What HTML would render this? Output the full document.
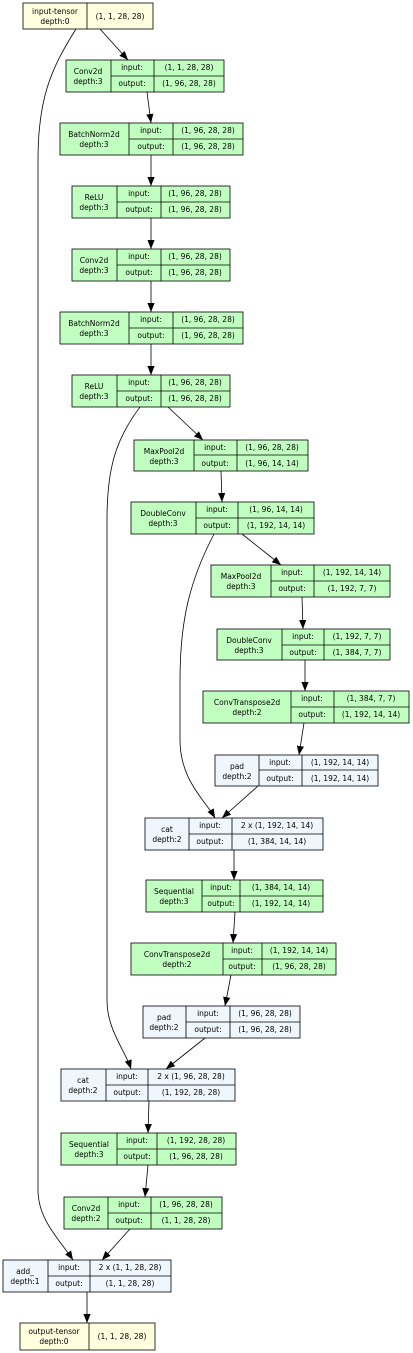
<!DOCTYPE html>
<html><head><meta charset="utf-8"><style>
html,body{margin:0;padding:0;background:#fff;}
svg{display:block;}
text{font-family:"DejaVu Sans","Liberation Sans",sans-serif;font-size:7.5px;fill:#000;text-anchor:middle;}
.g{fill:#c1ffc1;stroke:#000;stroke-width:0.8;}
.b{fill:#f0f6fd;stroke:#000;stroke-width:0.8;}
.y{fill:#ffffe0;stroke:#000;stroke-width:0.8;}
.l{stroke:#000;stroke-width:0.8;fill:none;}
.e{stroke:#000;stroke-width:0.8;fill:none;marker-end:url(#a);}
</style></head><body>
<svg width="413" height="1353" viewBox="0 0 413 1353" xmlns="http://www.w3.org/2000/svg">
<defs><marker id="a" viewBox="0 0 10 10" refX="10" refY="5" markerWidth="9" markerHeight="9" markerUnits="userSpaceOnUse" orient="auto"><path d="M0,1 L10,5 L0,9 z" fill="#000"/></marker></defs>

<!-- edges -->
<path class="e" d="M100,29 L128,60"/>
<path class="e" d="M76,29 C50,70 38,100 38,160 L38,1190 C38,1220 60,1240 73,1260"/>
<path class="e" d="M147,92 L151,123"/>
<path class="e" d="M151,155 L151,186"/>
<path class="e" d="M151,218 L151,249"/>
<path class="e" d="M151,281 L151,312"/>
<path class="e" d="M151,344 L151,375"/>
<path class="e" d="M168,407 L203,440"/>
<path class="e" d="M140,407 C115,440 107,470 107,520 L107,1000 C107,1030 125,1050 131,1069"/>
<path class="e" d="M221,471 L222,502"/>
<path class="e" d="M242,534 L281,565"/>
<path class="e" d="M214,534 C190,580 180,620 180,680 L180,740 C180,780 205,800 215,818"/>
<path class="e" d="M302,597 L303,629"/>
<path class="e" d="M305,660 L305,691"/>
<path class="e" d="M304,723 L299,755"/>
<path class="e" d="M258,786 L222,818"/>
<path class="e" d="M234,850 L234,880"/>
<path class="e" d="M235,912 L233,943"/>
<path class="e" d="M231,975 L225,1006"/>
<path class="e" d="M205,1038 L166,1069"/>
<path class="e" d="M149,1101 L148,1133"/>
<path class="e" d="M148,1165 L145,1197"/>
<path class="e" d="M130,1229 L102,1260"/>
<path class="e" d="M87,1292 L87,1323"/>

<!-- input-tensor -->
<rect class="y" x="23" y="3" width="130" height="26"/><line class="l" x1="87" y1="3" x2="87" y2="29"/>
<text x="55" y="14">input-tensor</text><text x="55" y="24">depth:0</text><text x="120" y="19">(1, 1, 28, 28)</text>

<!-- Conv2d -->
<rect class="g" x="66" y="60" width="158" height="32"/><line class="l" x1="111" y1="60" x2="111" y2="92"/><line class="l" x1="154" y1="60" x2="154" y2="92"/><line class="l" x1="111" y1="76" x2="224" y2="76"/>
<text x="88" y="74">Conv2d</text><text x="88" y="84">depth:3</text><text x="132" y="70">input:</text><text x="132" y="86">output:</text><text x="189" y="70">(1, 1, 28, 28)</text><text x="189" y="86">(1, 96, 28, 28)</text>

<!-- BatchNorm2d -->
<rect class="g" x="60" y="123" width="183" height="32"/><line class="l" x1="129" y1="123" x2="129" y2="155"/><line class="l" x1="173" y1="123" x2="173" y2="155"/><line class="l" x1="129" y1="139" x2="243" y2="139"/>
<text x="94" y="137">BatchNorm2d</text><text x="94" y="147">depth:3</text><text x="151" y="133">input:</text><text x="151" y="149">output:</text><text x="208" y="133">(1, 96, 28, 28)</text><text x="208" y="149">(1, 96, 28, 28)</text>

<!-- ReLU -->
<rect class="g" x="72" y="186" width="158" height="32"/><line class="l" x1="117" y1="186" x2="117" y2="218"/><line class="l" x1="161" y1="186" x2="161" y2="218"/><line class="l" x1="117" y1="202" x2="230" y2="202"/>
<text x="94" y="200">ReLU</text><text x="94" y="210">depth:3</text><text x="139" y="196">input:</text><text x="139" y="212">output:</text><text x="195" y="196">(1, 96, 28, 28)</text><text x="195" y="212">(1, 96, 28, 28)</text>

<!-- Conv2d -->
<rect class="g" x="72" y="249" width="158" height="32"/><line class="l" x1="117" y1="249" x2="117" y2="281"/><line class="l" x1="161" y1="249" x2="161" y2="281"/><line class="l" x1="117" y1="265" x2="230" y2="265"/>
<text x="94" y="263">Conv2d</text><text x="94" y="273">depth:3</text><text x="139" y="259">input:</text><text x="139" y="275">output:</text><text x="195" y="259">(1, 96, 28, 28)</text><text x="195" y="275">(1, 96, 28, 28)</text>

<!-- BatchNorm2d -->
<rect class="g" x="60" y="312" width="183" height="32"/><line class="l" x1="129" y1="312" x2="129" y2="344"/><line class="l" x1="173" y1="312" x2="173" y2="344"/><line class="l" x1="129" y1="328" x2="243" y2="328"/>
<text x="94" y="326">BatchNorm2d</text><text x="94" y="336">depth:3</text><text x="151" y="322">input:</text><text x="151" y="338">output:</text><text x="208" y="322">(1, 96, 28, 28)</text><text x="208" y="338">(1, 96, 28, 28)</text>

<!-- ReLU -->
<rect class="g" x="72" y="375" width="158" height="32"/><line class="l" x1="117" y1="375" x2="117" y2="407"/><line class="l" x1="161" y1="375" x2="161" y2="407"/><line class="l" x1="117" y1="391" x2="230" y2="391"/>
<text x="94" y="389">ReLU</text><text x="94" y="399">depth:3</text><text x="139" y="385">input:</text><text x="139" y="401">output:</text><text x="195" y="385">(1, 96, 28, 28)</text><text x="195" y="401">(1, 96, 28, 28)</text>

<!-- MaxPool2d -->
<rect class="g" x="134" y="440" width="174" height="31"/><line class="l" x1="194" y1="440" x2="194" y2="471"/><line class="l" x1="237" y1="440" x2="237" y2="471"/><line class="l" x1="194" y1="455" x2="308" y2="455"/>
<text x="164" y="454">MaxPool2d</text><text x="164" y="464">depth:3</text><text x="215" y="450">input:</text><text x="215" y="466">output:</text><text x="272" y="450">(1, 96, 28, 28)</text><text x="272" y="466">(1, 96, 14, 14)</text>

<!-- DoubleConv -->
<rect class="g" x="131" y="502" width="183" height="32"/><line class="l" x1="196" y1="502" x2="196" y2="534"/><line class="l" x1="238" y1="502" x2="238" y2="534"/><line class="l" x1="196" y1="518" x2="314" y2="518"/>
<text x="163" y="516">DoubleConv</text><text x="163" y="526">depth:3</text><text x="217" y="512">input:</text><text x="217" y="528">output:</text><text x="276" y="512">(1, 96, 14, 14)</text><text x="276" y="528">(1, 192, 14, 14)</text>

<!-- MaxPool2d -->
<rect class="g" x="211" y="565" width="179" height="32"/><line class="l" x1="271" y1="565" x2="271" y2="597"/><line class="l" x1="314" y1="565" x2="314" y2="597"/><line class="l" x1="271" y1="581" x2="390" y2="581"/>
<text x="241" y="579">MaxPool2d</text><text x="241" y="589">depth:3</text><text x="292" y="575">input:</text><text x="292" y="591">output:</text><text x="352" y="575">(1, 192, 14, 14)</text><text x="352" y="591">(1, 192, 7, 7)</text>

<!-- DoubleConv -->
<rect class="g" x="217" y="629" width="173" height="31"/><line class="l" x1="282" y1="629" x2="282" y2="660"/><line class="l" x1="324" y1="629" x2="324" y2="660"/><line class="l" x1="282" y1="645" x2="390" y2="645"/>
<text x="249" y="643">DoubleConv</text><text x="249" y="653">depth:3</text><text x="303" y="639">input:</text><text x="303" y="655">output:</text><text x="357" y="639">(1, 192, 7, 7)</text><text x="357" y="655">(1, 384, 7, 7)</text>

<!-- ConvTranspose2d -->
<rect class="g" x="203" y="691" width="206" height="32"/><line class="l" x1="291" y1="691" x2="291" y2="723"/><line class="l" x1="334" y1="691" x2="334" y2="723"/><line class="l" x1="291" y1="707" x2="409" y2="707"/>
<text x="247" y="705">ConvTranspose2d</text><text x="247" y="715">depth:2</text><text x="312" y="701">input:</text><text x="312" y="717">output:</text><text x="371" y="701">(1, 384, 7, 7)</text><text x="371" y="717">(1, 192, 14, 14)</text>

<!-- pad -->
<rect class="b" x="215" y="755" width="163" height="31"/><line class="l" x1="259" y1="755" x2="259" y2="786"/><line class="l" x1="302" y1="755" x2="302" y2="786"/><line class="l" x1="259" y1="770" x2="378" y2="770"/>
<text x="237" y="769">pad</text><text x="237" y="779">depth:2</text><text x="280" y="765">input:</text><text x="280" y="781">output:</text><text x="340" y="765">(1, 192, 14, 14)</text><text x="340" y="781">(1, 192, 14, 14)</text>

<!-- cat -->
<rect class="b" x="145" y="818" width="178" height="32"/><line class="l" x1="189" y1="818" x2="189" y2="850"/><line class="l" x1="232" y1="818" x2="232" y2="850"/><line class="l" x1="189" y1="834" x2="323" y2="834"/>
<text x="167" y="832">cat</text><text x="167" y="842">depth:2</text><text x="210" y="828">input:</text><text x="210" y="844">output:</text><text x="277" y="828">2 x (1, 192, 14, 14)</text><text x="277" y="844">(1, 384, 14, 14)</text>

<!-- Sequential -->
<rect class="g" x="146" y="880" width="177" height="32"/><line class="l" x1="202" y1="880" x2="202" y2="912"/><line class="l" x1="240" y1="880" x2="240" y2="912"/><line class="l" x1="202" y1="896" x2="323" y2="896"/>
<text x="174" y="894">Sequential</text><text x="174" y="904">depth:3</text><text x="221" y="890">input:</text><text x="221" y="906">output:</text><text x="281" y="890">(1, 384, 14, 14)</text><text x="281" y="906">(1, 192, 14, 14)</text>

<!-- ConvTranspose2d -->
<rect class="g" x="131" y="943" width="205" height="32"/><line class="l" x1="223" y1="943" x2="223" y2="975"/><line class="l" x1="262" y1="943" x2="262" y2="975"/><line class="l" x1="223" y1="959" x2="336" y2="959"/>
<text x="177" y="957">ConvTranspose2d</text><text x="177" y="967">depth:2</text><text x="242" y="953">input:</text><text x="242" y="969">output:</text><text x="299" y="953">(1, 192, 14, 14)</text><text x="299" y="969">(1, 96, 28, 28)</text>

<!-- pad -->
<rect class="b" x="143" y="1006" width="157" height="32"/><line class="l" x1="186" y1="1006" x2="186" y2="1038"/><line class="l" x1="230" y1="1006" x2="230" y2="1038"/><line class="l" x1="186" y1="1022" x2="300" y2="1022"/>
<text x="164" y="1020">pad</text><text x="164" y="1030">depth:2</text><text x="208" y="1016">input:</text><text x="208" y="1032">output:</text><text x="265" y="1016">(1, 96, 28, 28)</text><text x="265" y="1032">(1, 96, 28, 28)</text>

<!-- cat -->
<rect class="b" x="61" y="1069" width="174" height="32"/><line class="l" x1="106" y1="1069" x2="106" y2="1101"/><line class="l" x1="148" y1="1069" x2="148" y2="1101"/><line class="l" x1="106" y1="1085" x2="235" y2="1085"/>
<text x="83" y="1083">cat</text><text x="83" y="1093">depth:2</text><text x="127" y="1079">input:</text><text x="127" y="1095">output:</text><text x="191" y="1079">2 x (1, 96, 28, 28)</text><text x="191" y="1095">(1, 192, 28, 28)</text>

<!-- Sequential -->
<rect class="g" x="61" y="1133" width="175" height="32"/><line class="l" x1="117" y1="1133" x2="117" y2="1165"/><line class="l" x1="157" y1="1133" x2="157" y2="1165"/><line class="l" x1="117" y1="1149" x2="236" y2="1149"/>
<text x="89" y="1147">Sequential</text><text x="89" y="1157">depth:3</text><text x="137" y="1143">input:</text><text x="137" y="1159">output:</text><text x="196" y="1143">(1, 192, 28, 28)</text><text x="196" y="1159">(1, 96, 28, 28)</text>

<!-- Conv2d d2 -->
<rect class="g" x="64" y="1197" width="158" height="32"/><line class="l" x1="108" y1="1197" x2="108" y2="1229"/><line class="l" x1="151" y1="1197" x2="151" y2="1229"/><line class="l" x1="108" y1="1213" x2="222" y2="1213"/>
<text x="86" y="1211">Conv2d</text><text x="86" y="1221">depth:2</text><text x="129" y="1207">input:</text><text x="129" y="1223">output:</text><text x="186" y="1207">(1, 96, 28, 28)</text><text x="186" y="1223">(1, 1, 28, 28)</text>

<!-- add_ -->
<rect class="b" x="3" y="1260" width="168" height="32"/><line class="l" x1="48" y1="1260" x2="48" y2="1292"/><line class="l" x1="90" y1="1260" x2="90" y2="1292"/><line class="l" x1="48" y1="1276" x2="171" y2="1276"/>
<text x="25" y="1274">add_</text><text x="25" y="1284">depth:1</text><text x="69" y="1270">input:</text><text x="69" y="1286">output:</text><text x="130" y="1270">2 x (1, 1, 28, 28)</text><text x="130" y="1286">(1, 1, 28, 28)</text>

<!-- output-tensor -->
<rect class="y" x="20" y="1323" width="135" height="27"/><line class="l" x1="89" y1="1323" x2="89" y2="1350"/>
<text x="54" y="1334">output-tensor</text><text x="54" y="1344">depth:0</text><text x="122" y="1339">(1, 1, 28, 28)</text>
</svg>
</body></html>
